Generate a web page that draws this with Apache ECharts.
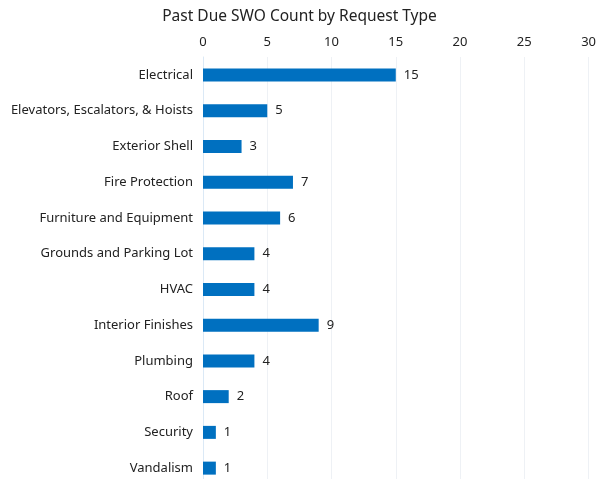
<!DOCTYPE html>
<html>
<head>
<meta charset="utf-8">
<script src="https://cdn.jsdelivr.net/npm/echarts@6/dist/echarts.min.js"></script>
<style>
  html, body { margin: 0; padding: 0; background: #fff; overflow: hidden; }
  #chart { width: 599px; height: 486px; }
</style>
</head>
<body>
<div id="chart"></div>
<script>
let categories = ['Electrical', 'Elevators, Escalators, & Hoists', 'Exterior Shell', 'Fire Protection',
    'Furniture and Equipment', 'Grounds and Parking Lot', 'HVAC', 'Interior Finishes',
    'Plumbing', 'Roof', 'Security', 'Vandalism']
let counts = [15, 5, 3, 7, 6, 4, 4, 9, 4, 2, 1, 1]
let tickMax = 30
let tickStep = 5

// chart runs a bit past the bottom of the window, like the original
let chart = echarts.init(document.getElementById('chart'))
let font = 'Noto Sans'

chart.setOption({
    animation: false,
    title: {
        text: 'Past Due SWO Count by Request Type',
        left: 'center',
        top: 4,
        textStyle: { fontFamily: font, fontSize: 15.5, fontWeight: 'normal', color: '#222' }
    },
    grid: { left: 203, right: 9, top: 57, bottom: 0 },
    xAxis: {
        type: 'value',
        position: 'top',
        min: 0,
        max: tickMax,
        interval: tickStep,
        axisLine: { show: false },
        axisTick: { show: false },
        axisLabel: { fontFamily: font, fontSize: 13, color: '#222', margin: 8 },
        splitLine: { lineStyle: { color: '#eef1f5', width: 1 } }
    },
    yAxis: {
        type: 'category',
        data: categories,
        inverse: true,
        axisLine: { show: true, lineStyle: { color: '#dbe9f6' } },
        axisTick: { show: false },
        axisLabel: { fontFamily: font, fontSize: 13, color: '#222', margin: 10 }
    },
    series: [{
        type: 'bar',
        data: counts,
        barWidth: 13,
        itemStyle: { color: '#0070c0' },
        label: { show: true, position: 'right', distance: 8, fontFamily: font, fontSize: 13, color: '#222' }
    }]
})
</script>
</body>
</html>
